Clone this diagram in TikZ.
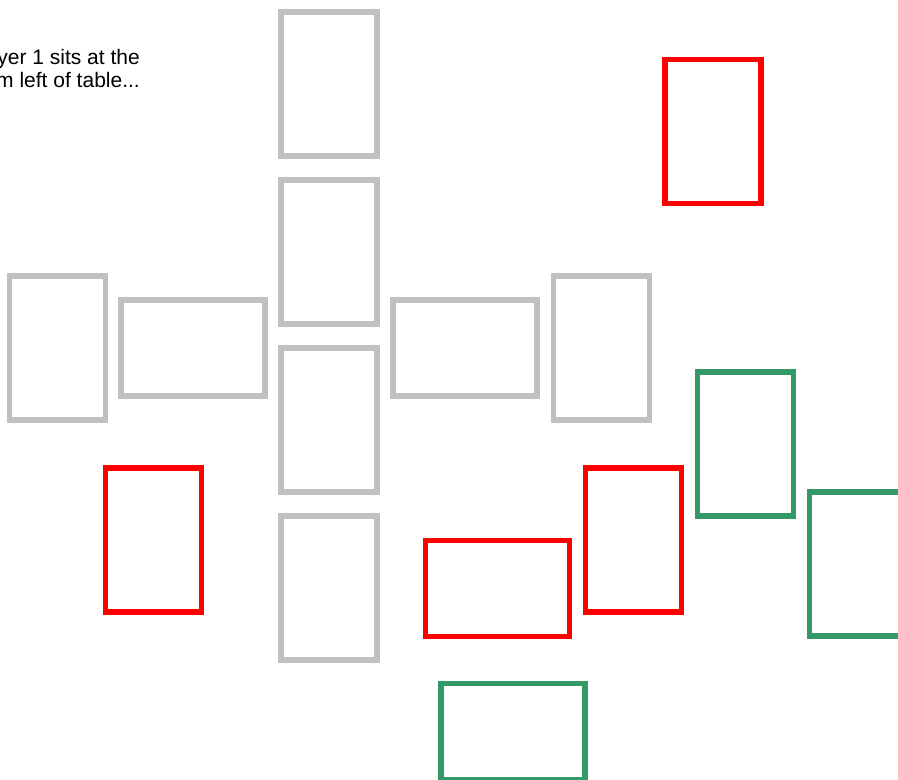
\documentclass[tikz,border=0pt]{standalone}
\usepackage{fontspec}
\setmainfont{Liberation Sans}
\definecolor{cardgray}{HTML}{C0C0C0}
\definecolor{cardred}{HTML}{FF0000}
\definecolor{cardgreen}{HTML}{339966}
\tikzset{
  card/.style={draw,line width=5.5pt,minimum width=96pt,minimum height=144pt,inner sep=0pt},
  flat/.style={card,minimum width=144pt,minimum height=96pt},
}

\begin{document}
\begin{tikzpicture}[x=1pt,y=-1pt]
        \useasboundingbox (0,0) rectangle (898,780);
        % note at top left
        \node[anchor=north east,align=right,inner sep=0pt,font=\fontsize{21}{23}\selectfont] (note) at (140,49.5) {yer 1 sits at the\\m left of table...};
        % grey cards on the table
        \node[card,cardgray] (col1) at (329,83.8) {};
        \node[card,cardgray] (col2) at (329,251.8) {};
        \node[card,cardgray] (col3) at (329,419.8) {};
        \node[card,cardgray] (col4) at (329,587.8) {};
        \node[card,cardgray] (left1) at (57.5,347.8) {};
        \node[flat,cardgray] (left2) at (193.2,347.8) {};
        \node[flat,cardgray] (right1) at (465.2,347.8) {};
        \node[card,cardgray] (right2) at (601.3,347.8) {};
        % red cards
        \node[card,cardred] (red1) at (713.2,131.3) {};
        \node[card,cardred] (red2) at (153.3,539.8) {};
        \node[card,cardred] (red3) at (633.3,539.8) {};
        \node[flat,cardred] (red4) at (497.5,588.3) {};
        % green cards
        \node[card,cardgreen] (green1) at (745.3,443.8) {};
        \node[card,cardgreen] (green2) at (857.3,563.8) {};
        \node[flat,cardgreen] (green3) at (512.8,731.3) {};
    \end{tikzpicture}
\end{document}
